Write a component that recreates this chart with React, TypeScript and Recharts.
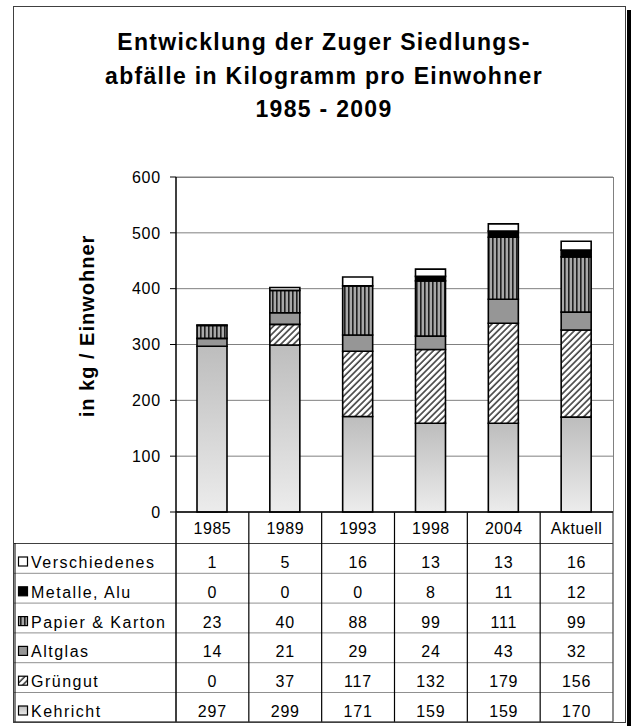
import React from "react";
import { BarChart, Bar, XAxis, YAxis, CartesianGrid } from "recharts";

const categories = ["1985", "1989", "1993", "1998", "2004", "Aktuell"];
const kehricht = [297, 299, 171, 159, 159, 170];
const gruengut = [0, 37, 117, 132, 179, 156];
const altglas = [14, 21, 29, 24, 43, 32];
const papier = [23, 40, 88, 99, 111, 99];
const metalle = [0, 0, 0, 8, 11, 12];
const verschiedenes = [1, 5, 16, 13, 13, 16];
const yTicks = [0, 100, 200, 300, 400, 500, 600];

const data = categories.map((year, i) => ({
  year,
  kehricht: kehricht[i],
  gruengut: gruengut[i],
  altglas: altglas[i],
  papier: papier[i],
  metalle: metalle[i],
  verschiedenes: verschiedenes[i],
}));

// table rows, top to bottom
const rows = [
  { key: "verschiedenes", label: "Verschiedenes", fill: "#ffffff" },
  { key: "metalle", label: "Metalle, Alu", fill: "#000000" },
  { key: "papier", label: "Papier & Karton", fill: "url(#papier)" },
  { key: "altglas", label: "Altglas", fill: "#969696" },
  { key: "gruengut", label: "Grüngut", fill: "url(#gruen)" },
  { key: "kehricht", label: "Kehricht", fill: "url(#kehricht)" },
];
const stackOrder = [...rows].reverse();

const FONT = "'Liberation Sans', Arial, sans-serif";
const PLOT_L = 176;
const PLOT_R = 613;
const PLOT_T = 177;
const PLOT_B = 512;
const ROW_T = 543;
const ROW_H = 29.8;
const BAND = (PLOT_R - PLOT_L) / categories.length;

function Defs() {
  return (
    <defs>
      <linearGradient id="kehricht" x1="0" y1="0" x2="0" y2="1">
        <stop offset="0%" stopColor="#bdbdbd" />
        <stop offset="100%" stopColor="#ececec" />
      </linearGradient>
      <pattern id="gruen" width="4.5" height="4.5" patternUnits="userSpaceOnUse" patternTransform="rotate(45)">
        <rect width="4.5" height="4.5" fill="#ffffff" />
        <line x1="1" y1="0" x2="1" y2="4.5" stroke="#404040" strokeWidth="1.6" />
      </pattern>
      <pattern id="papier" width="4" height="4" patternUnits="userSpaceOnUse">
        <rect width="4" height="4" fill="#a8a8a8" />
        <rect x="0" width="1.6" height="4" fill="#202020" />
      </pattern>
    </defs>
  );
}

function YearTick(props: any) {
  const { x, payload, index } = props;
  return (
    <g fontFamily={FONT} fontSize={16} fill="#000">
      <text x={x} y={534} textAnchor="middle" letterSpacing={0.5}>
        {payload.value}
      </text>
      {rows.map((r, j) => (
        <text key={r.key} x={x} y={ROW_T + j * ROW_H + 25} textAnchor="middle" letterSpacing={0.8}>
          {(data[index] as any)[r.key]}
        </text>
      ))}
    </g>
  );
}

function Decoration() {
  const colLines = categories.map((_, i) => PLOT_L + BAND * (i + 1));
  return (
    <svg width={631} height={726} style={{ position: "absolute", left: 0, top: 0 }}>
      <Defs />
      <rect x={627} y={10} width={4} height={716} fill="#000" />
      <rect x={13.5} y={6.5} width={612} height={716} fill="#fff" stroke="#404040" strokeWidth={1} />
      <g fontFamily={FONT} fontWeight="bold" fontSize={23} letterSpacing={1.3} textAnchor="middle" fill="#000">
        <text x={324} y={50}>Entwicklung der Zuger Siedlungs-</text>
        <text x={324} y={84}>abfälle in Kilogramm pro Einwohner</text>
        <text x={324} y={117}>1985 - 2009</text>
      </g>
      <text
        transform="translate(94,326) rotate(-90)"
        fontFamily={FONT}
        fontWeight="bold"
        fontSize={20}
        letterSpacing={1}
        textAnchor="middle"
        fill="#000"
      >
        in kg / Einwohner
      </text>
      {/* plot frame */}
      <line x1={PLOT_L} y1={PLOT_T + 0.5} x2={PLOT_R} y2={PLOT_T + 0.5} stroke="#808080" />
      <line x1={PLOT_R + 0.5} y1={PLOT_T} x2={PLOT_R + 0.5} y2={PLOT_B} stroke="#808080" />
      {/* table */}
      {rows.map((r, j) => (
        <line key={r.key} x1={14} y1={ROW_T + j * ROW_H + 0.5} x2={PLOT_R} y2={ROW_T + j * ROW_H + 0.5} stroke={j === 0 ? "#404040" : "#909090"} />
      ))}
      <line x1={14} y1={ROW_T + 6 * ROW_H} x2={PLOT_R} y2={ROW_T + 6 * ROW_H} stroke="#404040" />
      <line x1={15} y1={ROW_T} x2={15} y2={ROW_T + 6 * ROW_H} stroke="#000" />
      <line x1={PLOT_L} y1={PLOT_B} x2={PLOT_L} y2={ROW_T + 6 * ROW_H} stroke="#000" strokeWidth={1.5} />
      {colLines.map((cx, i) => (
        <line key={i} x1={cx} y1={PLOT_B} x2={cx} y2={ROW_T + 6 * ROW_H} stroke={i === colLines.length - 1 ? "#404040" : "#000"} strokeWidth={1.2} />
      ))}
      {rows.map((r, j) => {
        const cy = ROW_T + j * ROW_H + 19;
        return (
          <g key={r.key}>
            <rect x={18.5} y={cy - 5} width={9} height={9} fill={r.fill} stroke="#000" strokeWidth={1.2} />
            <text x={31} y={cy + 6} fontFamily={FONT} fontSize={16} letterSpacing={1.5} fill="#000">
              {r.label}
            </text>
          </g>
        );
      })}
    </svg>
  );
}

export default function App() {
  return (
    <div style={{ position: "absolute", left: 0, top: 0, width: 631, height: 726, background: "#fff" }}>
      <Decoration />
      <div style={{ position: "absolute", left: 0, top: 0 }}>
        <BarChart
          width={631}
          height={726}
          data={data}
          margin={{ top: PLOT_T, right: 631 - PLOT_R, bottom: 0, left: PLOT_L - 60 }}
          barSize={30}
        >
          <Defs />
          <CartesianGrid vertical={false} stroke="#808080" strokeDasharray="" />
          <XAxis
            dataKey="year"
            height={726 - PLOT_B}
            axisLine={{ stroke: "#000", strokeWidth: 1.5 }}
            tickLine={false}
            interval={0}
            tick={<YearTick />}
          />
          <YAxis
            width={60}
            domain={[0, 600]}
            ticks={yTicks}
            interval={0}
            tickSize={6}
            tickMargin={9}
            axisLine={{ stroke: "#000", strokeWidth: 1.5 }}
            tickLine={{ stroke: "#000" }}
            tick={{ fontFamily: FONT, fontSize: 16, fill: "#000", letterSpacing: 0.8 } as any}
          />
          {stackOrder.map((r) => (
            <Bar
              key={r.key}
              dataKey={r.key}
              stackId="a"
              fill={r.fill}
              stroke="#000"
              strokeWidth={1.6}
              isAnimationActive={false}
            />
          ))}
        </BarChart>
      </div>
    </div>
  );
}
